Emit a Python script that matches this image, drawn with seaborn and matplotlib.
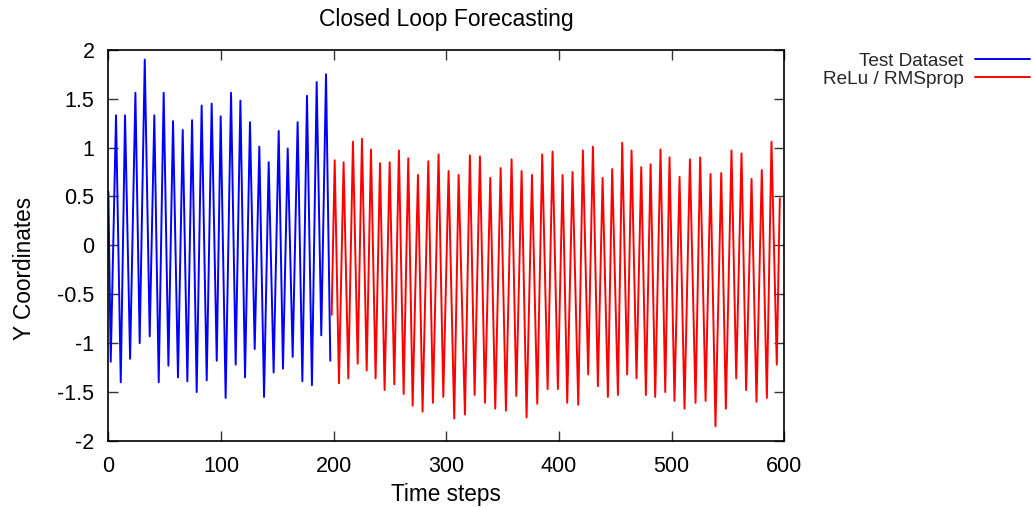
import matplotlib
matplotlib.use("Agg")
import matplotlib.pyplot as plt
import seaborn as sns
import pandas as pd

# Turning points of the test dataset (time step, value)
test_steps = [0, 2.1, 6.8, 11.0, 14.8, 19.3, 24.0, 27.8, 32.3, 36.7, 40.8, 44.7, 49.1, 53.3,
              57.4, 61.8, 66.0, 70.1, 74.3, 78.4, 82.8, 87.3, 91.7, 96.2, 99.7, 104.1, 108.9,
              113.0, 117.2, 121.3, 125.7, 129.9, 134.0, 138.2, 142.3, 146.7, 151.2, 155.0,
              159.2, 163.6, 168.0, 172.2, 176.3, 180.7, 184.9, 189.0, 193.2, 197.0]
test_values = [0.55, -1.19, 1.33, -1.40, 1.33, -1.16, 1.56, -1.00, 1.90, -0.93, 1.33, -1.40,
               1.56, -1.23, 1.27, -1.35, 1.18, -1.39, 1.28, -1.50, 1.43, -1.38, 1.45, -1.18,
               1.32, -1.56, 1.56, -1.22, 1.48, -1.35, 1.26, -1.06, 1.01, -1.55, 0.85, -1.30,
               1.17, -1.26, 0.99, -1.14, 1.26, -1.39, 1.53, -1.43, 1.67, -0.92, 1.75, -1.18]

# Turning points of the closed-loop forecast (ReLu / RMSprop)
forecast_steps = [198.2, 200.9, 204.7, 208.8, 213.0, 217.1, 221.3, 225.1, 229.3, 233.1,
                  237.2, 241.1, 245.2, 249.7, 253.8, 257.9, 262.1, 266.2, 270.1, 274.8,
                  278.9, 284.0, 288.1, 293.1, 297.3, 302.0, 307.0, 310.9, 316.5, 320.9,
                  325.1, 329.8, 334.3, 339.0, 343.4, 348.2, 352.9, 357.9, 362.1, 366.8,
                  371.2, 376.0, 380.7, 385.1, 389.9, 394.3, 399.0, 403.2, 407.3, 412.0,
                  417.1, 421.2, 425.9, 430.1, 434.5, 438.7, 443.4, 447.2, 452.3, 456.1,
                  460.5, 464.4, 468.8, 473.0, 477.1, 481.3, 485.4, 490.1, 494.3, 498.1,
                  502.5, 507.0, 511.4, 516.2, 521.2, 525.3, 530.1, 534.5, 538.9, 544.0,
                  548.1, 553.1, 557.3, 562.0, 566.1, 570.9, 575.3, 580.0, 584.5, 588.6,
                  593.3, 596.0]
forecast_values = [-0.71, 0.87, -1.41, 0.85, -1.36, 1.06, -1.21, 1.09, -1.28, 0.98,
                   -1.36, 0.84, -1.48, 0.85, -1.42, 0.97, -1.52, 0.89, -1.64, 0.72,
                   -1.70, 0.86, -1.61, 0.93, -1.55, 0.76, -1.77, 0.72, -1.73, 0.92,
                   -1.53, 0.91, -1.61, 0.69, -1.67, 0.79, -1.69, 0.88, -1.54, 0.76,
                   -1.76, 0.72, -1.62, 0.93, -1.47, 0.96, -1.47, 0.72, -1.61, 0.75,
                   -1.63, 0.97, -1.32, 1.01, -1.44, 0.69, -1.55, 0.78, -1.53, 1.05,
                   -1.32, 0.97, -1.36, 0.80, -1.53, 0.83, -1.55, 0.98, -1.50, 0.90,
                   -1.59, 0.70, -1.67, 0.88, -1.61, 0.90, -1.59, 0.73, -1.85, 0.74,
                   -1.67, 0.97, -1.36, 0.94, -1.48, 0.68, -1.60, 0.77, -1.56, 1.06,
                   -1.22, 0.48]

series_labels = ["Test Dataset", "ReLu / RMSprop"]
series_colors = ["#0000ff", "#ff0000"]
x_ticks = [0, 100, 200, 300, 400, 500, 600]
y_ticks = [-2, -1.5, -1, -0.5, 0, 0.5, 1, 1.5, 2]
y_tick_labels = ["-2", "-1.5", "-1", "-0.5", "0", "0.5", "1", "1.5", "2"]

sns.set_style("ticks")
plt.rcParams["font.family"] = ["Liberation Sans", "DejaVu Sans"]

fig = plt.figure(figsize=(10.32, 5.08), dpi=100)
ax = fig.add_axes([0.105, 0.132, 0.655, 0.770])

test_df = pd.DataFrame({"step": test_steps, "value": test_values})
fc_df = pd.DataFrame({"step": forecast_steps, "value": forecast_values})

sns.lineplot(data=test_df, x="step", y="value", ax=ax, sort=False, estimator=None,
             color=series_colors[0], linewidth=1.4, label=series_labels[0])
sns.lineplot(data=fc_df, x="step", y="value", ax=ax, sort=False, estimator=None,
             color=series_colors[1], linewidth=1.4, label=series_labels[1])

ax.set_xlim(0, 600)
ax.set_ylim(-2, 2)
ax.set_xticks(x_ticks)
ax.set_xticklabels([str(t) for t in x_ticks])
ax.set_yticks(y_ticks)
ax.set_yticklabels(y_tick_labels)

for side in ["top", "right", "bottom", "left"]:
    ax.spines[side].set_visible(True)
    ax.spines[side].set_linewidth(1.2)
    ax.spines[side].set_color("black")

ax.tick_params(axis="both", which="major", direction="in", length=7.5, width=1.0,
               color="#333333", top=True, right=True, labelsize=15.5, labelcolor="black")
ax.tick_params(axis="x", pad=11)
ax.tick_params(axis="y", pad=10)

ax.set_title("Closed Loop Forecasting", fontsize=16.5, pad=17, color="black")
ax.set_xlabel("Time steps", fontsize=16.3, color="black", labelpad=4)
ax.set_ylabel("Y Coordinates", fontsize=16.3, color="black")
ax.yaxis.set_label_coords(-0.107, 0.44)

leg = ax.legend(loc="upper right", bbox_to_anchor=(1030 / 1032, 0.897),
                bbox_transform=fig.transFigure, frameon=False, markerfirst=False,
                fontsize=13.7, handlelength=2.9, handletextpad=0.6,
                labelspacing=0.06, borderpad=0, borderaxespad=0)
for line in leg.get_lines():
    line.set_linewidth(1.4)

fig.savefig("out.png", dpi=100)
